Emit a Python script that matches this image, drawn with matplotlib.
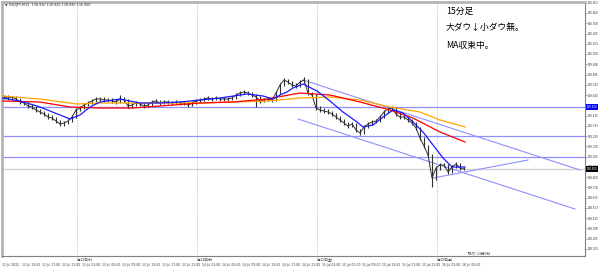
import matplotlib
matplotlib.use('Agg')
import matplotlib.pyplot as plt
import matplotlib.transforms as mtransforms
import numpy as np

plt.rcParams['font.family'] = ['Noto Sans CJK JP', 'DejaVu Sans']

# USDJPY M15, one entry per drawn bar
closes = [139.62, 139.61, 139.62, 139.60, 139.57, 139.56, 139.53, 139.52, 139.49, 139.47,
          139.45, 139.42, 139.41, 139.38, 139.35, 139.36, 139.38, 139.42, 139.49, 139.51,
          139.54, 139.56, 139.58, 139.60, 139.60, 139.59, 139.59, 139.58, 139.57, 139.60,
          139.59, 139.53, 139.54, 139.56, 139.55, 139.53, 139.54, 139.57, 139.58, 139.56,
          139.57, 139.57, 139.56, 139.57, 139.56, 139.56, 139.54, 139.56, 139.58, 139.59,
          139.60, 139.61, 139.60, 139.61, 139.60, 139.60, 139.60, 139.61, 139.64, 139.66,
          139.67, 139.66, 139.64, 139.62, 139.58, 139.59, 139.60, 139.59, 139.66, 139.74,
          139.79, 139.77, 139.74, 139.73, 139.77, 139.79, 139.66, 139.64, 139.51, 139.49,
          139.48, 139.47, 139.45, 139.42, 139.39, 139.36, 139.33, 139.35, 139.29, 139.26,
          139.32, 139.35, 139.37, 139.38, 139.42, 139.47, 139.50, 139.51, 139.45, 139.42,
          139.42, 139.39, 139.36, 139.31, 139.21, 139.13, 139.04, 138.81, 138.91, 138.94,
          138.94, 138.87, 138.92, 138.95, 138.91, 138.90]
highs = [139.64, 139.64, 139.63, 139.63, 139.61, 139.58, 139.57, 139.55, 139.53, 139.50,
         139.48, 139.46, 139.44, 139.42, 139.39, 139.38, 139.40, 139.44, 139.51, 139.53,
         139.56, 139.58, 139.60, 139.62, 139.62, 139.62, 139.61, 139.61, 139.60, 139.64,
         139.62, 139.60, 139.56, 139.58, 139.57, 139.56, 139.56, 139.59, 139.60, 139.59,
         139.59, 139.59, 139.58, 139.59, 139.58, 139.58, 139.57, 139.58, 139.60, 139.61,
         139.62, 139.63, 139.62, 139.63, 139.62, 139.62, 139.62, 139.63, 139.66, 139.68,
         139.69, 139.68, 139.67, 139.65, 139.63, 139.61, 139.62, 139.61, 139.68, 139.76,
         139.81, 139.80, 139.78, 139.76, 139.79, 139.82, 139.80, 139.67, 139.65, 139.53,
         139.51, 139.50, 139.48, 139.46, 139.43, 139.40, 139.37, 139.37, 139.36, 139.30,
         139.34, 139.37, 139.39, 139.40, 139.44, 139.49, 139.52, 139.53, 139.52, 139.46,
         139.44, 139.43, 139.40, 139.37, 139.32, 139.22, 139.14, 139.05, 138.93, 138.96,
         138.96, 138.95, 138.94, 138.97, 138.96, 138.92]
lows = [139.60, 139.59, 139.59, 139.58, 139.55, 139.54, 139.51, 139.50, 139.47, 139.45,
        139.43, 139.40, 139.39, 139.36, 139.33, 139.33, 139.35, 139.37, 139.41, 139.48,
        139.50, 139.53, 139.55, 139.57, 139.58, 139.57, 139.57, 139.56, 139.55, 139.56,
        139.57, 139.51, 139.51, 139.53, 139.53, 139.51, 139.52, 139.53, 139.56, 139.54,
        139.55, 139.55, 139.54, 139.55, 139.54, 139.54, 139.52, 139.53, 139.55, 139.57,
        139.58, 139.59, 139.58, 139.59, 139.58, 139.58, 139.58, 139.59, 139.60, 139.63,
        139.65, 139.64, 139.62, 139.52, 139.56, 139.57, 139.58, 139.57, 139.58, 139.65,
        139.73, 139.75, 139.72, 139.71, 139.72, 139.76, 139.64, 139.62, 139.49, 139.47,
        139.46, 139.45, 139.43, 139.40, 139.37, 139.34, 139.31, 139.32, 139.27, 139.24,
        139.25, 139.31, 139.34, 139.36, 139.37, 139.41, 139.46, 139.49, 139.43, 139.40,
        139.40, 139.37, 139.34, 139.29, 139.19, 139.11, 139.02, 138.72, 138.79, 138.89,
        138.92, 138.85, 138.86, 138.91, 138.89, 138.89]

# moving averages (bar position, price)
ma_blue_x = [-0.5, 4, 9, 14, 16.5, 19, 21.5, 24, 29, 34, 39, 44, 49, 54, 60.75, 64.75,
             67.25, 69, 70.75, 72.25, 74.75, 78.25, 81.5, 84.75, 88.25, 89.75, 92.25,
             94.75, 97.25, 99.75, 102.25, 104.75, 107.25, 109.75, 112, 115.25]
ma_blue = [139.61, 139.58, 139.52, 139.44, 139.40, 139.44, 139.52, 139.57, 139.60, 139.56,
           139.56, 139.57, 139.59, 139.61, 139.65, 139.63, 139.60, 139.64, 139.67, 139.71,
           139.75, 139.68, 139.58, 139.47, 139.37, 139.32, 139.34, 139.42, 139.49, 139.46,
           139.37, 139.27, 139.14, 139.01, 138.92, 138.92]
ma_red_x = [-0.5, 9, 16.5, 24, 32.25, 39, 49, 57.25, 65.75, 74, 81.5, 89, 96.5, 102.25,
            109, 115.25]
ma_red = [139.58, 139.57, 139.52, 139.51, 139.51, 139.53, 139.56, 139.57, 139.60, 139.66,
          139.64, 139.57, 139.49, 139.41, 139.27, 139.17]
ma_orange_x = [-0.5, 9, 18.25, 24, 32.25, 40.75, 49, 57.25, 65.75, 74, 81.5, 89, 96.5,
               104, 109, 115.25]
ma_orange = [139.63, 139.60, 139.55, 139.56, 139.56, 139.56, 139.56, 139.57, 139.58,
             139.61, 139.62, 139.59, 139.52, 139.47, 139.39, 139.32]

# drawn objects
hlines = [139.52, 139.23, 139.02]
trend_x = [[74.75, 144.0], [73.5, 142.75], [107.25, 131.0]]
trend_y = [[139.79, 138.89], [139.40, 138.50], [138.81, 138.99]]
separators = [18.25, 48.25, 78.25, 108.25]
separator_labels = ['7月13日(水)', '7月14日(木)', '7月15日(金)', '7月18日(月)']
last_price = 138.90

time_x = [-0.5, 4.5, 9.5, 14.5, 19.5, 24.5, 29.5, 34.5, 39.5, 44.5, 49.5, 54.5,
          59.5, 64.5, 69.5, 74.5, 79.5, 84.5, 89.5, 94.5, 99.5, 104.5, 109.5, 114.5]
time_labels = ['12 Jul 2022', '12 Jul 13:00', '12 Jul 17:00', '12 Jul 21:00',
               '13 Jul 01:00', '13 Jul 05:00', '13 Jul 09:00', '13 Jul 13:00',
               '13 Jul 17:00', '13 Jul 21:00', '14 Jul 01:00', '14 Jul 05:00',
               '14 Jul 09:00', '14 Jul 13:00', '14 Jul 17:00', '14 Jul 21:00',
               '15 Jul 01:00', '15 Jul 05:00', '15 Jul 09:00', '15 Jul 13:00',
               '15 Jul 17:00', '15 Jul 21:00', '18 Jul 01:00', '18 Jul 05:00']
price_ticks = [140.563, 140.460, 140.358, 140.255, 140.153, 140.050, 139.948, 139.845,
               139.743, 139.640, 139.538, 139.435, 139.333, 139.230, 139.128, 139.025,
               138.923, 138.820, 138.718, 138.615, 138.513, 138.410, 138.308, 138.205,
               138.103]

fig = plt.figure(figsize=(6, 2.68), dpi=100)
ax = fig.add_axes([2 / 600, 12 / 268, 583 / 600, 254 / 268])
ax.set_xlim(-0.5, 145.25)
ax.set_ylim(138.03, 140.57)

# horizontal lines and price line
for h in hlines:
    ax.axhline(h, color='#8f8fff', lw=0.9, zorder=1)
ax.axhline(last_price, color='#d4d4d4', lw=1.0, zorder=1)

for s in separators:
    ax.axvline(s, color='#a8a8a8', lw=0.6, linestyle=(0, (1, 1.5)), zorder=1)

# candles, drawn as compressed bars (wick + close path)
bars = np.arange(len(closes))
ax.vlines(bars, lows, highs, color='#303030', lw=0.8, zorder=3)
ax.plot(bars, closes, color='#303030', lw=0.7, zorder=3)

# moving averages
ax.plot(ma_orange_x, ma_orange, color='#ffa500', lw=0.9, zorder=5)
ax.plot(ma_red_x, ma_red, color='#ff0000', lw=0.9, zorder=5)
ax.plot(ma_blue_x, ma_blue, color='#1a1aff', lw=0.9, zorder=6)

# trend lines
for tx, ty in zip(trend_x, trend_y):
    ax.plot(tx, ty, color='#8f8fff', lw=0.8, zorder=2)

# axes styling
for side in ['left', 'top']:
    ax.spines[side].set_color('#b4b4b4')
    ax.spines[side].set_linewidth(2)
for side in ['right', 'bottom']:
    ax.spines[side].set_color('#808080')
    ax.spines[side].set_linewidth(0.8)
ax.set_xticks([])
ax.yaxis.tick_right()
ax.set_yticks(price_ticks)
ax.set_yticklabels(['{:.3f}'.format(p) for p in price_ticks], fontsize=1.9, color='#303030',
                   family='DejaVu Sans')
ax.tick_params(axis='y', length=1.5, width=0.5, color='#808080', pad=0.8)

# price tags on the scale
tr = mtransforms.blended_transform_factory(ax.transAxes, ax.transData)
ax.text(1.003, hlines[0], '{:.3f}'.format(hlines[0]), transform=tr, fontsize=1.9,
        color='white', va='center', ha='left', family='DejaVu Sans', zorder=10,
        bbox=dict(boxstyle='square,pad=0.3', fc='#0000ff', ec='none'))
ax.text(1.003, last_price, '{:.3f}'.format(last_price), transform=tr, fontsize=1.9,
        color='white', va='center', ha='left', family='DejaVu Sans', zorder=10,
        bbox=dict(boxstyle='square,pad=0.3', fc='black', ec='none'))

# time scale
trx = mtransforms.blended_transform_factory(ax.transData, ax.transAxes)
for x, lab in zip(time_x, time_labels):
    ax.text(x, -0.026, lab, transform=trx, fontsize=2.2, color='#303030',
            ha='left', va='top', family='DejaVu Sans')
for x, lab in zip(separators, separator_labels):
    ax.text(x, -0.004, lab, transform=trx, fontsize=2.2, color='#303030',
            ha='left', va='top')

# header and notes
fig.text(5 / 600, 1 - 5 / 268, '▼ USDJPY,M15  138.910 138.920 138.890 138.900',
         fontsize=2.4, color='#303030', va='center', family='DejaVu Sans')
fig.text(446 / 600, 1 - 11 / 268, '15分足', fontsize=6.3, va='center')
fig.text(446 / 600, 1 - 27.5 / 268, '大ダウ↓小ダウ無。', fontsize=6.3, va='center')
fig.text(446 / 600, 1 - 46 / 268, 'MA収束中。', fontsize=6.3, va='center')
fig.text(468 / 600, 1 - 253.5 / 268, '残り: 13分9秒', fontsize=2.6, va='center', color='#303030')

plt.savefig('out.png', dpi=100)
plt.close()
